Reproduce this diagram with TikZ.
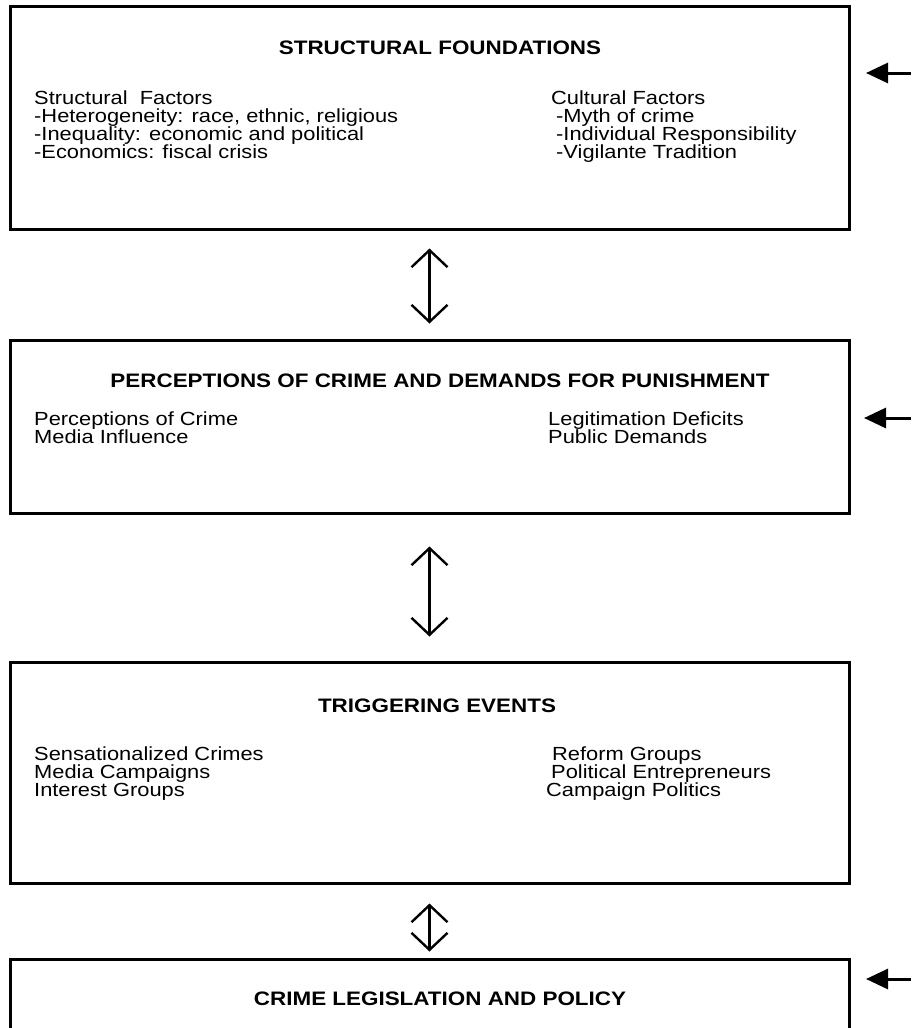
\documentclass[tikz,border=0pt]{standalone}
\usepackage{fontspec}
\setmainfont[FakeStretch=1.15]{Liberation Sans}
\usetikzlibrary{arrows.meta}
\begin{document}
\begin{tikzpicture}[x=1pt,y=-1pt,
  box/.style={draw=black, line width=3pt, inner sep=0, minimum width=839pt},
  ttl/.style={anchor=base, inner sep=0, font=\bfseries\fontsize{19.5}{22}\selectfont},
  lbl/.style={anchor=base west, inner sep=0, font=\fontsize{19}{21}\selectfont},
  inarrow/.style={line width=3pt, -{Triangle[length=22pt,width=20pt]}},
  dbl/.style={line width=2.4pt, {Straight Barb[length=17pt,width=36pt]}-{Straight Barb[length=17pt,width=36pt]}}]
\useasboundingbox (0,0) rectangle (911,1028);
\clip (0,0) rectangle (911,1028);
% boxes
\node[box, minimum height=223pt] (b1) at (429.5,117.5) {};
\node[box, minimum height=173pt] (b2) at (429.5,426.5) {};
\node[box, minimum height=221pt] (b3) at (429.5,772.5) {};
\node[box, minimum height=101pt] (b4) at (429.5,1009.5) {};
% box 1
\node[ttl] (t1) at (440,54) {STRUCTURAL FOUNDATIONS};
\node[lbl] (l11) at (34,104) {Structural\ \ Factors};
\node[lbl] (l12) at (34,122) {-Heterogeneity: race, ethnic, religious};
\node[lbl] (l13) at (34,140) {-Inequality: economic and political};
\node[lbl] (l14) at (34,158) {-Economics: fiscal crisis};
\node[lbl] (r11) at (551,104) {Cultural Factors};
\node[lbl] (r12) at (556,122) {-Myth of crime};
\node[lbl] (r13) at (556,140) {-Individual Responsibility};
\node[lbl] (r14) at (556,158) {-Vigilante Tradition};
% box 2
\node[ttl] (t2) at (440,387) {PERCEPTIONS OF CRIME AND DEMANDS FOR PUNISHMENT};
\node[lbl] (l21) at (34,425) {Perceptions of Crime};
\node[lbl] (l22) at (34,443) {Media Influence};
\node[lbl] (r21) at (548,425) {Legitimation Deficits};
\node[lbl] (r22) at (548,443) {Public Demands};
% box 3
\node[ttl] (t3) at (437,712) {TRIGGERING EVENTS};
\node[lbl] (l31) at (34,760) {Sensationalized Crimes};
\node[lbl] (l32) at (34,778) {Media Campaigns};
\node[lbl] (l33) at (34,796) {Interest Groups};
\node[lbl] (r31) at (552,760) {Reform Groups};
\node[lbl] (r32) at (551,778) {Political Entrepreneurs};
\node[lbl] (r33) at (546,796) {Campaign Politics};
% box 4
\node[ttl] (t4) at (440,1005) {CRIME LEGISLATION AND POLICY};
% double arrows
\draw[dbl, shorten <=18pt, shorten >=15pt] (b1.south) -- (b2.north);
\draw[dbl, shorten <=32pt, shorten >=24pt] (b2.south) -- (b3.north);
\draw[dbl, shorten <=19pt, shorten >=6pt] (b3.south) -- (b4.north);
% incoming arrows
\coordinate (s1) at (911,73);  \coordinate (e1) at (866,73);
\coordinate (s2) at (911,418); \coordinate (e2) at (864,418);
\coordinate (s4) at (911,979); \coordinate (e4) at (866,979);
\draw[inarrow] (s1) -- (e1);
\draw[inarrow] (s2) -- (e2);
\draw[inarrow] (s4) -- (e4);
\end{tikzpicture}
\end{document}
